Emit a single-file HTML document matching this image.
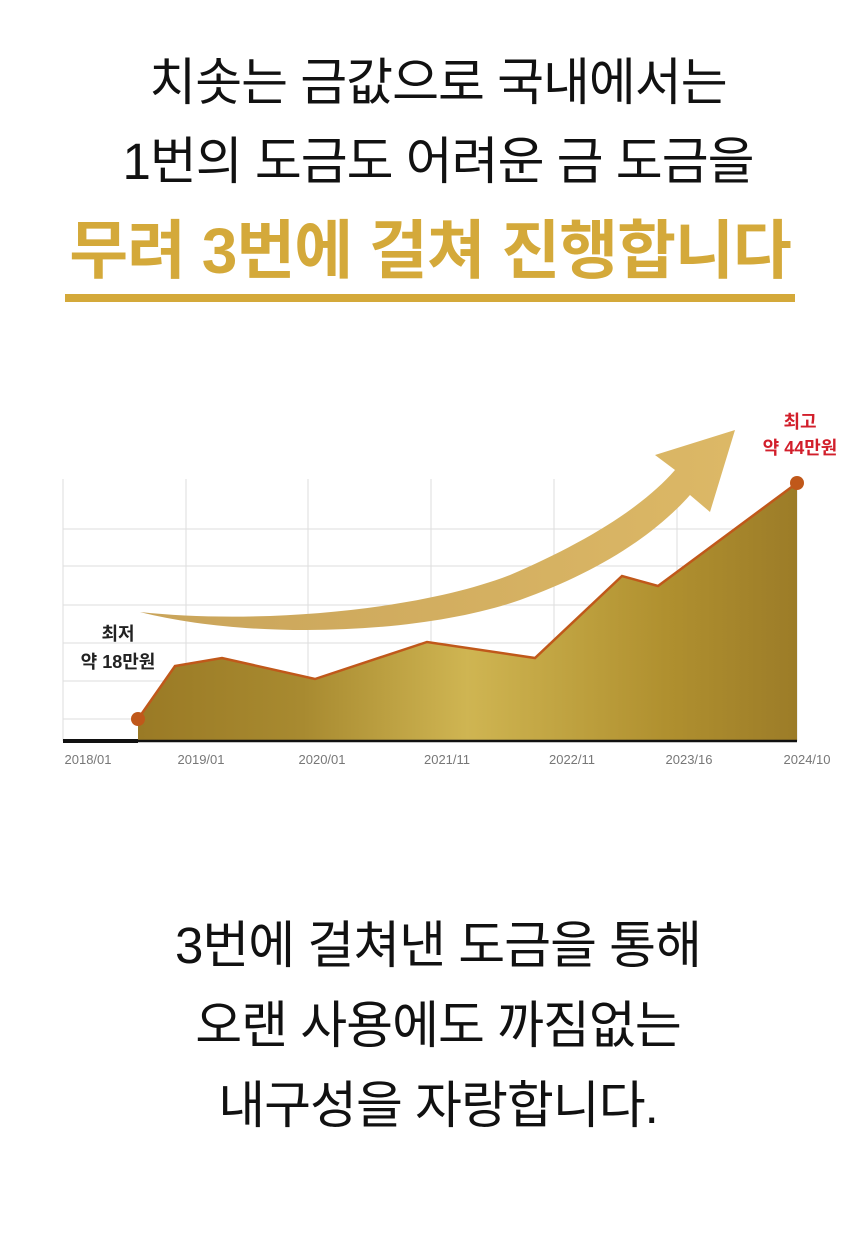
<!DOCTYPE html>
<html><head><meta charset="utf-8"><style>
body{margin:0;width:860px;height:1251px;background:#fff;font-family:"Liberation Sans","Noto Sans CJK KR",sans-serif;position:relative;overflow:hidden}
.t{position:absolute;left:8px;width:860px;text-align:center;color:#111;font-size:51px;letter-spacing:-1px;line-height:1}
</style></head><body>
<div class="t" style="top:57px">치솟는 금값으로 국내에서는</div>
<div class="t" style="top:136px">1번의 도금도 어려운 금 도금을</div>
<div class="t" style="top:219px;left:0;color:#d4a93a;font-weight:bold;font-size:64px;letter-spacing:-1px">무려 3번에 걸쳐 진행합니다</div>
<div style="position:absolute;left:65px;top:294px;width:730px;height:8px;background:#d4a93a"></div>
<svg style="position:absolute;left:0;top:0" width="860" height="800">
<defs>
<linearGradient id="g" x1="0" x2="1" y1="0" y2="0">
<stop offset="0" stop-color="#9a7a25"/><stop offset="0.25" stop-color="#a88a30"/><stop offset="0.5" stop-color="#cfb552"/><stop offset="0.8" stop-color="#b0902f"/><stop offset="1" stop-color="#9c7c28"/></linearGradient>
<linearGradient id="a" x1="0" x2="1"><stop offset="0" stop-color="#c9a45a"/><stop offset="1" stop-color="#dcb866"/></linearGradient>
</defs>
<g stroke="#ddd" stroke-width="1">
<line x1="63" y1="479" x2="63" y2="741"/><line x1="186" y1="479" x2="186" y2="741"/><line x1="308" y1="479" x2="308" y2="741"/><line x1="431" y1="479" x2="431" y2="741"/><line x1="554" y1="479" x2="554" y2="741"/><line x1="677" y1="479" x2="677" y2="741"/><line x1="797" y1="479" x2="797" y2="741"/>
<line x1="63" y1="529" x2="797" y2="529"/><line x1="63" y1="566" x2="797" y2="566"/><line x1="63" y1="605" x2="797" y2="605"/><line x1="63" y1="643" x2="797" y2="643"/><line x1="63" y1="681" x2="797" y2="681"/><line x1="63" y1="719" x2="797" y2="719"/>
</g>
<polygon points="138,719 175,666 222,658 315,679 427,642 535,658 622,576 658,586 797,483 797,741 138,741" fill="url(#g)"/>
<polyline points="138,719 175,666 222,658 315,679 427,642 535,658 622,576 658,586 797,483" fill="none" stroke="#c0581a" stroke-width="2.5"/>
<line x1="63" y1="741" x2="138" y2="741" stroke="#111" stroke-width="4"/>
<line x1="138" y1="741" x2="797" y2="741" stroke="#111" stroke-width="2.5"/>
<circle cx="138" cy="719" r="7" fill="#c0581a"/><circle cx="797" cy="483" r="7" fill="#c0581a"/>
<path d="M140,612 C250,640 420,635 520,600 C590,575 650,540 690,495 L710,512 L735,430 L655,455 L675,470 C640,510 580,545 510,575 C420,610 260,625 140,612Z" fill="url(#a)"/>
<g font-size="13" fill="#777" text-anchor="middle" font-family="Liberation Sans,sans-serif">
<text x="88" y="764">2018/01</text><text x="201" y="764">2019/01</text><text x="322" y="764">2020/01</text><text x="447" y="764">2021/11</text><text x="572" y="764">2022/11</text><text x="689" y="764">2023/16</text><text x="807" y="764">2024/10</text>
</g>
<g font-size="18" text-anchor="middle" font-family="Liberation Sans,Noto Sans CJK KR,sans-serif" font-weight="bold">
<text x="118" y="640" fill="#222">최저</text><text x="118" y="668" fill="#222">약 18만원</text>
<text x="800" y="428" fill="#d21f2b">최고</text><text x="800" y="454" fill="#d21f2b">약 44만원</text>
</g>
</svg>
<div class="t" style="top:920px">3번에 걸쳐낸 도금을 통해</div>
<div class="t" style="top:1000px">오랜 사용에도 까짐없는</div>
<div class="t" style="top:1080px">내구성을 자랑합니다.</div>
</body></html>
